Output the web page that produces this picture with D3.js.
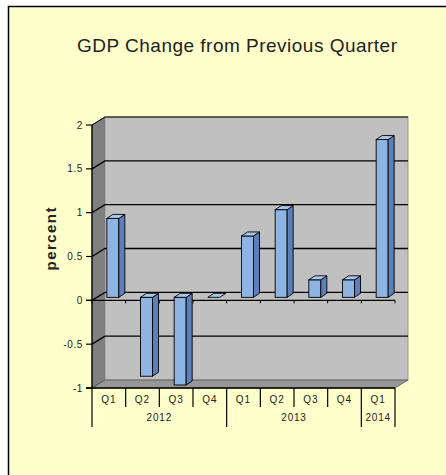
<!doctype html>
<html>
<head>
<meta charset="utf-8">
<script src="https://cdn.jsdelivr.net/npm/d3@7"></script>
<style>
    html,body{
        margin: 0;
        overflow: hidden;
        background: #fff;
    }
    text {
        font-family: "Liberation Sans", Arial, sans-serif;
        fill: #222;
    }
</style>
</head>
<body>
<script>
// data
var quarters = ["Q1","Q2","Q3","Q4","Q1","Q2","Q3","Q4","Q1"];
var years    = ["2012","2012","2012","2012","2013","2013","2013","2013","2014"];
var gdpChange = [0.9, -0.9, -1.0, 0, 0.7, 1.0, 0.2, 0.2, 1.8];
var yTicks = [-1, -0.5, 0, 0.5, 1, 1.5, 2];

var w = 446, h = 475,
    depthX = 13, depthY = -8;   // back wall shift

var svg = d3.select("body").append("svg")
    .attr("width", w)
    .attr("height", h);

// frame
svg.append("rect")
    .attr("x", 8.5).attr("y", 6.5)
    .attr("width", 440).attr("height", 480)
    .attr("fill", "#ffffcc")
    .attr("stroke", "#000").attr("stroke-width", 1.5);

svg.append("text")
    .attr("x", 237).attr("y", 52)
    .attr("text-anchor", "middle")
    .attr("font-size", 19)
    .attr("textLength", 320).attr("lengthAdjust", "spacing")
    .text("GDP Change from Previous Quarter");

var idx = d3.range(quarters.length);
var x = d3.scaleBand().domain(idx).range([92, 395]).padding(0);
var y = d3.scaleLinear().domain([-1, 2]).range([388, 125]);

var x0 = x.range()[0], x1 = x.range()[1],
    yTop = y(2), yBot = y(-1);

// left wall
svg.append("polygon")
    .attr("points", [[x0, yTop], [x0 + depthX, yTop + depthY], [x0 + depthX, yBot + depthY], [x0, yBot]].join(" "))
    .attr("fill", "#808080")
    .attr("stroke", "#333").attr("stroke-width", 0.8);

// back wall
svg.append("rect")
    .attr("x", x0 + depthX).attr("y", yTop + depthY)
    .attr("width", x1 - x0).attr("height", yBot - yTop)
    .attr("fill", "#c0c0c0")
    .attr("stroke", "#999").attr("stroke-width", 1);

// floor
svg.append("polygon")
    .attr("points", [[x0, yBot], [x0 + depthX, yBot + depthY], [x1 + depthX, yBot + depthY], [x1, yBot]].join(" "))
    .attr("fill", "#979797")
    .attr("stroke", "#555").attr("stroke-width", 0.8);

// gridlines on walls
yTicks.filter(function(t){ return t > -1; }).forEach(function(t){
    var yy = y(t);
    svg.append("polyline")
        .attr("points", [[x0, yy], [x0 + depthX, yy + depthY], [x1 + depthX, yy + depthY]].join(" "))
        .attr("fill", "none")
        .attr("stroke", "#000").attr("stroke-width", t == 2 ? 1 : 1.4);
});

// zero line with category ticks
svg.append("line")
    .attr("x1", x0 - 6).attr("x2", x1)
    .attr("y1", y(0)).attr("y2", y(0))
    .attr("stroke", "#000").attr("stroke-width", 1.2);
svg.selectAll(".zt").data(d3.range(quarters.length + 1)).enter().append("line")
    .attr("x1", function(i){ return x0 + i * x.bandwidth(); })
    .attr("x2", function(i){ return x0 + i * x.bandwidth(); })
    .attr("y1", y(0)).attr("y2", y(0) + 3)
    .attr("stroke", "#000");

// bars
var bw = 12, bd = 6, bdy = -4, shiftX = -2, shiftY = -3;
var bars = svg.selectAll(".bar").data(idx).enter().append("g");
bars.each(function(i){
    var g = d3.select(this),
        fx = x(i) + x.bandwidth() / 2 + shiftX,
        ya = y(0) + shiftY, yb = y(gdpChange[i]) + shiftY,
        top = Math.min(ya, yb), bot = Math.max(ya, yb);
    if (bot - top > 0.5) {
        g.append("rect")
            .attr("x", fx).attr("y", top)
            .attr("width", bw).attr("height", bot - top)
            .attr("fill", "#8db4e3")
            .attr("stroke", "#000").attr("stroke-width", 0.9);
        g.append("polygon")
            .attr("points", [[fx + bw, top], [fx + bw + bd, top + bdy], [fx + bw + bd, bot + bdy], [fx + bw, bot]].join(" "))
            .attr("fill", "#5b7fb6")
            .attr("stroke", "#000").attr("stroke-width", 0.9);
    }
    g.append("polygon")
        .attr("points", [[fx, top], [fx + bd, top + bdy], [fx + bw + bd, top + bdy], [fx + bw, top]].join(" "))
        .attr("fill", "#a9c6ec")
        .attr("stroke", "#000").attr("stroke-width", 0.9);
});

// y axis
svg.append("line")
    .attr("x1", x0).attr("x2", x0)
    .attr("y1", yTop).attr("y2", yBot)
    .attr("stroke", "#000").attr("stroke-width", 1.2);
var yt = svg.selectAll(".yt").data(yTicks).enter().append("g")
    .attr("transform", function(d){ return "translate(0," + y(d) + ")"; });
yt.append("line")
    .attr("x1", x0 - 6).attr("x2", x0)
    .attr("stroke", "#000").attr("stroke-width", 1.2);
yt.append("text")
    .attr("x", x0 - 9).attr("dy", "0.35em")
    .attr("text-anchor", "end")
    .attr("font-size", 10)
    .style("letter-spacing", "0.6px")
    .text(function(d){ return d; });

svg.append("text")
    .attr("transform", "translate(56,239) rotate(-90)")
    .attr("text-anchor", "middle")
    .attr("font-size", 15).attr("font-weight", "bold")
    .attr("textLength", 63).attr("lengthAdjust", "spacing")
    .text("percent");

// category axis along floor front edge
svg.append("line")
    .attr("x1", x0 - 6).attr("x2", x1)
    .attr("y1", yBot).attr("y2", yBot)
    .attr("stroke", "#000").attr("stroke-width", 1.4);

svg.selectAll(".ql").data(idx).enter().append("text")
    .attr("x", function(i){ return x(i) + x.bandwidth() / 2; })
    .attr("y", 403)
    .attr("text-anchor", "middle")
    .attr("font-size", 10)
    .style("letter-spacing", "1px")
    .text(function(i){ return quarters[i]; });

// separators: short between quarters, long at year changes
d3.range(quarters.length + 1).forEach(function(i){
    var edge = i == 0 || i == quarters.length || years[i] != years[i - 1];
    var xx = i == quarters.length ? x1 : x(i);
    svg.append("line")
        .attr("x1", xx).attr("x2", xx)
        .attr("y1", yBot).attr("y2", edge ? 427 : 407)
        .attr("stroke", "#000").attr("stroke-width", 1.2);
});

var yearGroups = d3.groups(idx, function(i){ return years[i]; });
svg.selectAll(".yl").data(yearGroups).enter().append("text")
    .attr("x", function(g){
        var a = g[1][0], b = g[1][g[1].length - 1];
        return (x(a) + x(b) + x.bandwidth()) / 2;
    })
    .attr("y", 421)
    .attr("text-anchor", "middle")
    .attr("font-size", 10)
    .style("letter-spacing", "0.8px")
    .text(function(g){ return g[0]; });
</script>
</body>
</html>
